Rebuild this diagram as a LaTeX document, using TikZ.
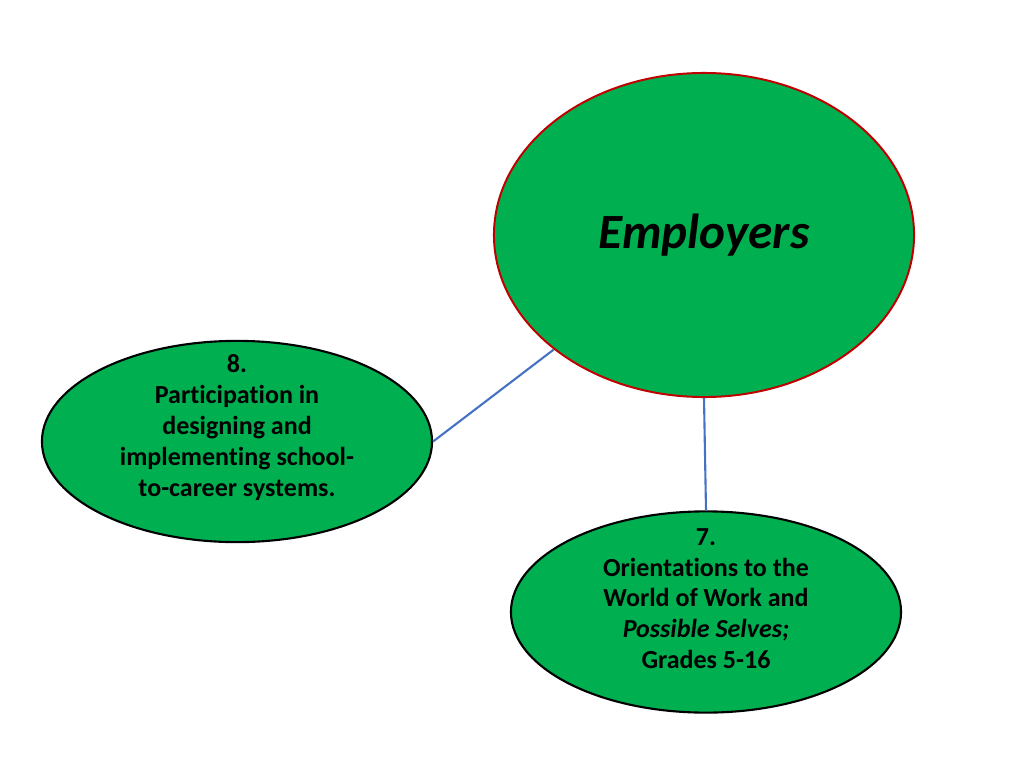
\documentclass[tikz,border=0pt]{standalone}
\usepackage{fontspec}
\setmainfont{Carlito}[Ligatures=NoCommon]
\usepackage{tikz}
\usetikzlibrary{
  positioning,
  shapes.geometric
}
\definecolor{LeafGreen}{RGB}{0,176,80}
\definecolor{RimRed}{RGB}{192,0,0}
\definecolor{LinkBlue}{RGB}{70,114,196}
\tikzset{
  hubnode/.style={ellipse,draw=RimRed,fill=LeafGreen,line width=1.4pt,inner sep=0pt,minimum width=10.5cm,minimum height=8.1cm,align=center,font=\fontsize{35}{40}\selectfont\bfseries\itshape},
  rolenode/.style={ellipse,draw=black,fill=LeafGreen,line width=1.5pt,inner sep=0pt,minimum width=9.75cm,minimum height=5.03cm},
  roletext/.style={inner sep=0pt,align=center,font=\fontsize{18.5}{22}\selectfont\bfseries},
  link/.style={draw=LinkBlue,line width=1.5pt}
}

\begin{document}
\begin{tikzpicture}[x=0.025cm,y=-0.025cm]
\useasboundingbox (0,0) rectangle (1024,768);
\node[hubnode] (emp) at (704,235) {\raisebox{-2pt}{Employers}};
\node[rolenode] (part) at (237,441.5) {};
\node[roletext] (parttext) at ([yshift=10pt]part.center) {8.\\Participation in\\designing and\\implementing school-\\to-career systems.};
\node[rolenode] (orient) at (706,612) {};
\node[roletext] (orienttext) at ([yshift=9.5pt]orient.center) {7.\\Orientations to the\\World of Work and\\\textit{Possible Selves;}\\Grades 5-16};

\draw[link] (emp) -- (part.east);
\draw[link] (emp.south) -- (orient.north);
\end{tikzpicture}
\end{document}
